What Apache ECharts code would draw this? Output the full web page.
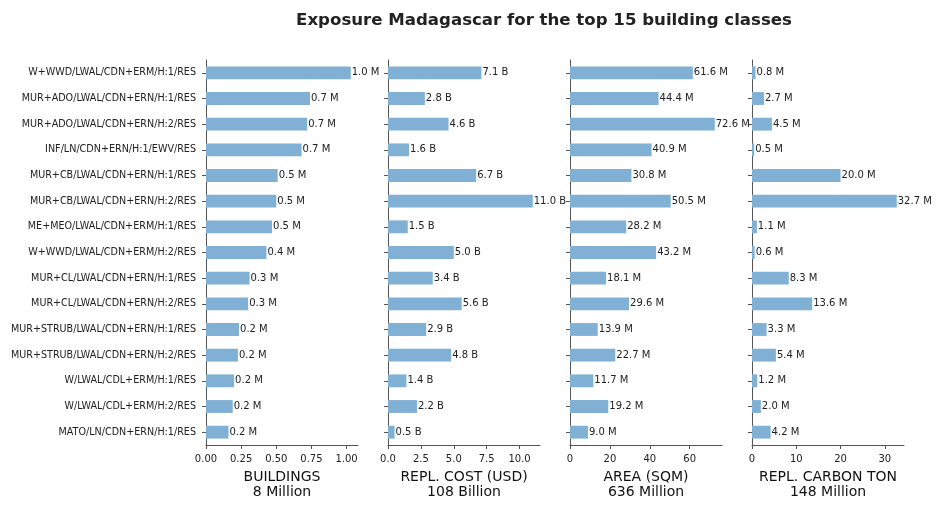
<!DOCTYPE html>
<html>
<head>
<meta charset="UTF-8">
<title>Exposure Madagascar</title>
<script src="https://cdn.jsdelivr.net/npm/echarts@6/dist/echarts.min.js"></script>
<style>
  html, body { margin: 0; padding: 0; background: #fff; }
  #chart { width: 941px; height: 510px; }
</style>
</head>
<body>
<div id="chart"></div>
<script>
const classes = [
  'W+WWD/LWAL/CDN+ERM/H:1/RES', 'MUR+ADO/LWAL/CDN+ERN/H:1/RES', 'MUR+ADO/LWAL/CDN+ERN/H:2/RES',
  'INF/LN/CDN+ERN/H:1/EWV/RES', 'MUR+CB/LWAL/CDN+ERN/H:1/RES', 'MUR+CB/LWAL/CDN+ERN/H:2/RES',
  'ME+MEO/LWAL/CDN+ERM/H:1/RES', 'W+WWD/LWAL/CDN+ERM/H:2/RES', 'MUR+CL/LWAL/CDN+ERN/H:1/RES',
  'MUR+CL/LWAL/CDN+ERN/H:2/RES', 'MUR+STRUB/LWAL/CDN+ERN/H:1/RES', 'MUR+STRUB/LWAL/CDN+ERN/H:2/RES',
  'W/LWAL/CDL+ERM/H:1/RES', 'W/LWAL/CDL+ERM/H:2/RES', 'MATO/LN/CDN+ERN/H:1/RES'
];
// millions of buildings
const buildings = [1.03, 0.74, 0.72, 0.68, 0.51, 0.50, 0.47, 0.43, 0.31, 0.30, 0.235, 0.227, 0.20, 0.19, 0.16];
// billions USD
const replCost = [7.1, 2.8, 4.6, 1.6, 6.7, 11.0, 1.5, 5.0, 3.4, 5.6, 2.9, 4.8, 1.4, 2.2, 0.5];
// millions sqm
const area = [61.6, 44.4, 72.6, 40.9, 30.8, 50.5, 28.2, 43.2, 18.1, 29.6, 13.9, 22.7, 11.7, 19.2, 9.0];
// millions tons
const carbon = [0.8, 2.7, 4.5, 0.5, 20.0, 32.7, 1.1, 0.6, 8.3, 13.6, 3.3, 5.4, 1.2, 2.0, 4.2];

const panels = [
  { data: buildings, unit: 'M', name: 'BUILDINGS\n8 Million', ticks: [0, 0.25, 0.5, 0.75, 1.0], dec: 2 },
  { data: replCost, unit: 'B', name: 'REPL. COST (USD)\n108 Billion', ticks: [0, 2.5, 5, 7.5, 10], dec: 1 },
  { data: area, unit: 'M', name: 'AREA (SQM)\n636 Million', ticks: [0, 20, 40, 60], dec: 0 },
  { data: carbon, unit: 'M', name: 'REPL. CARBON TON\n148 Million', ticks: [0, 10, 20, 30], dec: 0 }
];

const FONT = 'DejaVu Sans';
const AX = '#555';
const lefts = [206, 388, 570, 752];

const grid = [], xAxis = [], yAxis = [], series = [];
panels.forEach((p, i) => {
  grid.push({ left: lefts[i], width: 152, top: 60, height: 385 });
  xAxis.push({
    type: 'value', gridIndex: i, min: 0, max: Math.max(...p.data) * 1.05,
    splitLine: { show: false },
    axisLine: { show: true, lineStyle: { color: AX } },
    axisTick: { show: true, length: 4, customValues: p.ticks, lineStyle: { color: AX } },
    axisLabel: {
      customValues: p.ticks, fontSize: 10, color: '#222', fontFamily: FONT, margin: 9,
      formatter: v => v.toFixed(p.dec)
    },
    name: p.name, nameLocation: 'middle', nameGap: 25,
    nameTextStyle: { fontSize: 14, color: '#111', fontFamily: FONT, lineHeight: 15 }
  });
  yAxis.push({
    type: 'category', gridIndex: i, data: classes, inverse: true,
    axisLine: { show: true, lineStyle: { color: AX } },
    axisTick: { show: true, alignWithLabel: true, length: 4, lineStyle: { color: AX } },
    axisLabel: { show: i === 0, fontSize: 9.6, color: '#222', fontFamily: FONT, margin: 10 }
  });
  series.push({
    type: 'bar', xAxisIndex: i, yAxisIndex: i, data: p.data, barWidth: '50%',
    itemStyle: { color: '#80b0d4' },
    label: {
      show: true, position: 'right', distance: 1, fontSize: 10, color: '#222', fontFamily: FONT,
      formatter: d => d.value.toFixed(1) + ' ' + p.unit
    }
  });
});

const chart = echarts.init(document.getElementById('chart'), null, { renderer: 'canvas' });
chart.setOption({
  animation: false,
  title: {
    text: 'Exposure Madagascar for the top 15 building classes',
    left: 539, top: 7, textAlign: 'center',
    textStyle: { fontSize: 16.6, fontWeight: 'bold', color: '#222', fontFamily: FONT }
  },
  grid, xAxis, yAxis, series
});
</script>
</body>
</html>
